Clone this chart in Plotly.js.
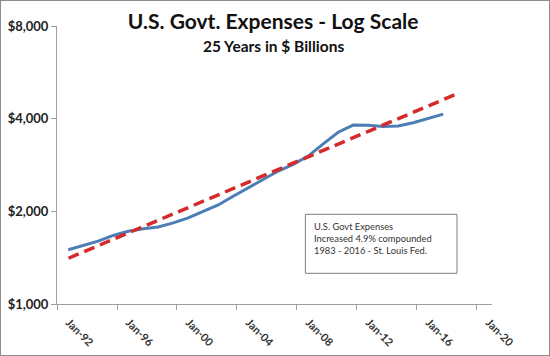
<!DOCTYPE html>
<html>
<head>
<meta charset="utf-8">
<script src="https://cdn.plot.ly/plotly-3.0.1.min.js"></script>
<style>
  html, body { margin: 0; padding: 0; background: #fff; }
  #chart { width: 548px; height: 354px; border: 1px solid #8c8c8c; }
</style>
</head>
<body>
<div id="chart"></div>
<script>
// Series: U.S. government expenses ($ billions), annual
const dates = [
  '1992-10-01','1993-10-01','1994-10-01','1995-10-01','1996-10-01','1997-10-01',
  '1998-10-01','1999-10-01','2000-10-01','2001-10-01','2002-10-01','2003-10-01',
  '2004-10-01','2005-10-01','2006-10-01','2007-10-01','2008-10-01','2009-10-01',
  '2010-10-01','2011-10-01','2012-10-01','2013-10-01','2014-10-01','2015-10-01',
  '2016-10-01','2017-10-01'
];
const expenses = [
  1501, 1548, 1601, 1670, 1724, 1756, 1780, 1835, 1905, 1998, 2098, 2239,
  2383, 2535, 2703, 2842, 3024, 3311, 3613, 3813, 3805, 3774, 3787, 3880,
  4011, 4140
];
// Trend line (4.9% compounded), endpoints
const trendDates = ['1992-10-08', '2018-11-01'];
const trendValues = [1408, 4855];

// Tick labels
const yTickVals = [1000, 2000, 4000, 8000];
const yTickText = ['$1,000', '$2,000', '$4,000', '$8,000'];

const titleText = 'U.S. Govt. Expenses - Log Scale';
const subtitleText = '25 Years in $ Billions';
const noteLines = ['U.S. Govt Expenses', 'Increased 4.9% compounded', '1983 - 2016 - St. Louis Fed.'];

const FONT = 'Lato, "Open Sans", sans-serif';

const traces = [
  {
    x: dates, y: expenses, type: 'scatter', mode: 'lines',
    line: { color: '#4a7eb4', width: 3 },
    hoverinfo: 'skip', showlegend: false
  },
  {
    x: trendDates, y: trendValues, type: 'scatter', mode: 'lines',
    line: { color: '#d52a2a', width: 3.5, dash: '11px,6px' },
    hoverinfo: 'skip', showlegend: false
  }
];

const layout = {
  width: 548, height: 354,
  margin: { l: 56, r: 57, t: 25, b: 51 },
  paper_bgcolor: '#ffffff', plot_bgcolor: '#ffffff',
  font: { family: FONT, color: '#222' },
  title: {
    text: titleText,
    font: { family: FONT, size: 21, color: '#111', weight: 'bold' },
    x: 0.497, xref: 'paper', xanchor: 'center',
    y: 1 - 21 / 354, yref: 'container', yanchor: 'middle'
  },
  xaxis: {
    type: 'date',
    range: ['1992-01-01', '2021-01-01'],
    tick0: '1992-01-01', dtick: 'M48',
    tickformat: '%b-%y',
    tickangle: 45,
    ticklabelshift: 12,
    ticklabelstandoff: 2,
    tickfont: { family: FONT, size: 11, color: '#333', weight: 'bold' },
    ticks: 'outside', ticklen: 5, tickcolor: '#a0a0a0',
    showline: true, linecolor: '#a0a0a0', linewidth: 1,
    showgrid: false, zeroline: false, fixedrange: true
  },
  yaxis: {
    type: 'log',
    range: [3, Math.log10(8000)],
    tickvals: yTickVals, ticktext: yTickText,
    tickfont: { family: FONT, size: 13, color: '#222', weight: 'bold' },
    ticks: 'outside', ticklen: 5, tickcolor: '#a0a0a0',
    showline: true, linecolor: '#a0a0a0', linewidth: 1,
    showgrid: false, zeroline: false, fixedrange: true
  },
  shapes: [
    {
      type: 'rect', xref: 'paper', yref: 'paper',
      x0: 0.571, x1: 0.9195, y0: 0.1104, y1: 0.3227,
      line: { color: '#7f7f7f', width: 1 }, fillcolor: '#ffffff'
    }
  ],
  annotations: [
    {
      text: subtitleText, xref: 'paper', yref: 'paper',
      x: 0.497, y: 0.929, xanchor: 'center', yanchor: 'middle',
      showarrow: false,
      font: { family: FONT, size: 15.5, color: '#111', weight: 'bold' }
    },
    {
      text: noteLines.join('<br>'), xref: 'paper', yref: 'paper',
      x: 0.586, y: 0.304, xanchor: 'left', yanchor: 'top', align: 'left',
      showarrow: false,
      font: { family: FONT, size: 9.3, color: '#333' }
    }
  ]
};

Plotly.newPlot('chart', traces, layout, { staticPlot: true, displayModeBar: false });
</script>
</body>
</html>
